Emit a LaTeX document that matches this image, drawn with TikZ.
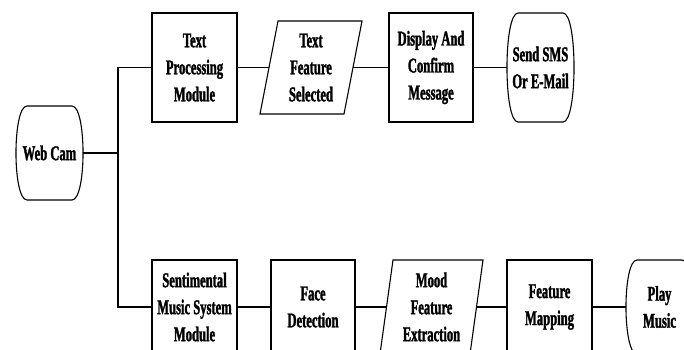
\documentclass[tikz,border=0pt]{standalone}
\usepackage{fontspec}
\setmainfont{Liberation Serif}[FakeStretch=0.6,FakeBold=1.5]
\begin{document}
\begin{tikzpicture}[x=1pt,y=-1pt,
  every node/.style={outer sep=0pt,inner sep=0pt,align=center,
    font=\fontsize{21}{27}\selectfont\bfseries},
  blk/.style={draw,line width=1.1pt,minimum width=85pt,minimum height=109pt},
  shp/.style={draw=none},
  ln/.style={line width=1.1pt}]
\path[use as bounding box,clip] (0,0) rectangle (684,349);
\fill[white] (0,0) rectangle (684,349);
% top row
\node[shp,minimum width=67pt,minimum height=94pt] (web) at (49.5,153) {Web Cam};
\node[blk] (tpm) at (194.5,67.5) {Text\\Processing\\Module};
\node[shp,minimum width=102pt,minimum height=93pt] (tfs) at (311,67.5) {Text\\Feature\\Selected};
\node[blk,minimum width=84pt] (dcm) at (431,67.5) {Display And\\Confirm\\Message};
\node[shp,minimum width=67pt,minimum height=109pt] (sms) at (540.5,67.5) {Send SMS\\Or E-Mail};
% bottom row
\node[blk,minimum height=94pt] (smm) at (194.5,307) {Sentimental\\Music System\\Module};
\node[blk,minimum width=84pt,minimum height=94pt] (fd) at (313,307) {Face\\Detection};
\node[shp,minimum width=103pt,minimum height=94pt] (mfe) at (431.5,307) {Mood\\Feature\\Extraction};
\node[blk,minimum height=94pt] (fm) at (549.5,307) {Feature\\Mapping};
\node[shp,minimum width=67pt,minimum height=94pt] (play) at (659.5,307) {Play\\Music};
% terminator outlines
\foreach \n in {web,sms,play}
  \draw[ln] ([xshift=11pt]\n.north west) -- ([xshift=-11pt]\n.north east)
    .. controls ([xshift=3.7pt]\n.north east) and ([xshift=3.7pt]\n.south east) .. ([xshift=-11pt]\n.south east)
    -- ([xshift=11pt]\n.south west)
    .. controls ([xshift=-3.7pt]\n.south west) and ([xshift=-3.7pt]\n.north west) .. cycle;
% parallelogram outlines
\draw[ln] ([xshift=18pt]tfs.north west) -- (tfs.north east) -- ([xshift=-18pt]tfs.south east) -- (tfs.south west) -- cycle;
\draw[ln] ([xshift=13pt]mfe.north west) -- (mfe.north east) -- ([xshift=-13pt]mfe.south east) -- (mfe.south west) -- cycle;
% connectors
\coordinate (j) at (118,153);
\draw[ln] (web.east) -- (j);
\draw[ln] (tpm.west) -| (j) |- (smm.west);
\draw[ln] (tpm.east) -- ([xshift=9pt]tfs.west);
\draw[ln] ([xshift=-9pt]tfs.east) -- (dcm.west);
\draw[ln] (dcm.east) -- (sms.west);
\draw[ln] (smm.east) -- (fd.west);
\draw[ln] (fd.east) -- ([xshift=6.5pt]mfe.west);
\draw[ln] ([xshift=-6.5pt]mfe.east) -- (fm.west);
\draw[ln] (fm.east) -- (play.west);
\end{tikzpicture}
\end{document}
